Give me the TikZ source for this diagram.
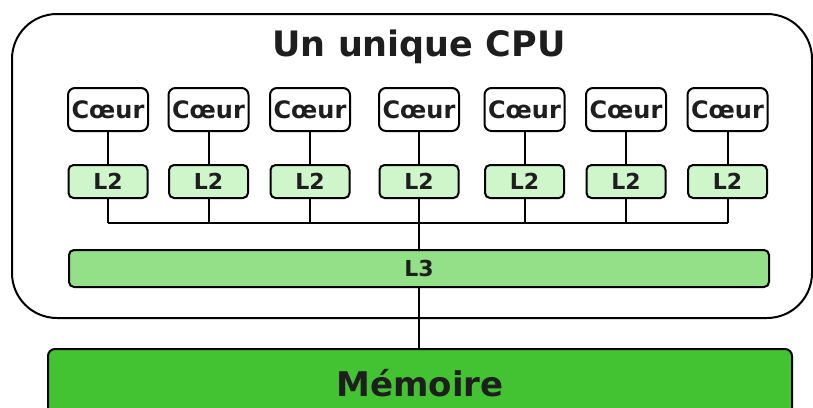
\documentclass[tikz,border=0pt]{standalone}
\usepackage{fontspec}
\setmainfont{DejaVu Sans}
\usetikzlibrary{positioning}
\definecolor{cLdeux}{HTML}{CFF5CA}
\definecolor{cLtrois}{HTML}{93E089}
\definecolor{cMem}{HTML}{44C332}
\definecolor{cInk}{HTML}{1E1E1E}
\tikzset{
  core/.style  ={draw=black, line width=2pt, rounded corners=7pt, fill=white, text=cInk, inner sep=0pt,
                 font=\bfseries\fontsize{24}{26}\selectfont, minimum width=80pt, minimum height=43pt},
  ltwo/.style  ={draw=black, line width=2pt, rounded corners=5pt, fill=cLdeux, text=cInk, inner sep=0pt,
                 font=\bfseries\fontsize{22}{26}\selectfont, minimum width=79pt, minimum height=33pt},
  lthree/.style={draw=black, line width=2pt, rounded corners=5pt, fill=cLtrois, text=cInk, inner sep=0pt,
                 font=\bfseries\fontsize{22}{26}\selectfont, minimum width=700pt, minimum height=37pt},
  mem/.style   ={draw=black, line width=2pt, rounded corners=7pt, fill=cMem, text=cInk, inner sep=0pt,
                 font=\bfseries\fontsize{34}{38}\selectfont, minimum width=744pt, minimum height=70pt},
  cpu/.style   ={draw=black, line width=2pt, rounded corners=45pt, inner sep=0pt,
                 minimum width=800pt, minimum height=304pt},
  wire/.style  ={line width=2pt, draw=black},
}
\begin{document}
\begin{tikzpicture}[x=1pt, y=-1pt]
  \path[use as bounding box, clip] (0,0) rectangle (813,407);
  % boitier du processeur
  \node[cpu] (cpu) at (412,166) {};
  \node[text=cInk, font=\bfseries\fontsize{35}{40}\selectfont] (titre) at (419,47) {Un unique CPU};
  % coeurs
  \node[core] (c1) at (108,109.5) {Cœur};
  \node[core] (c2) at (208.5,109.5) {Cœur};
  \node[core] (c3) at (310,109.5) {Cœur};
  \node[core] (c4) at (419,109.5) {Cœur};
  \node[core] (c5) at (524.5,109.5) {Cœur};
  \node[core] (c6) at (626,109.5) {Cœur};
  \node[core] (c7) at (727.5,109.5) {Cœur};
  % caches L2
  \node[ltwo, below=32pt of c1] (m1) {L2};
  \node[ltwo, below=32pt of c2] (m2) {L2};
  \node[ltwo, below=32pt of c3] (m3) {L2};
  \node[ltwo, below=32pt of c4] (m4) {L2};
  \node[ltwo, below=32pt of c5] (m5) {L2};
  \node[ltwo, below=32pt of c6] (m6) {L2};
  \node[ltwo, below=32pt of c7] (m7) {L2};
  \draw[wire] (c1)--(m1); \draw[wire] (c2)--(m2); \draw[wire] (c3)--(m3); \draw[wire] (c4)--(m4);
  \draw[wire] (c5)--(m5); \draw[wire] (c6)--(m6); \draw[wire] (c7)--(m7);
  % bus vers L3
  \coordinate (bus) at (0,223);
  \draw[wire] (m1.south) -- (m1.south |- bus); \draw[wire] (m2.south) -- (m2.south |- bus);
  \draw[wire] (m3.south) -- (m3.south |- bus); \draw[wire] (m5.south) -- (m5.south |- bus);
  \draw[wire] (m6.south) -- (m6.south |- bus); \draw[wire] (m7.south) -- (m7.south |- bus);
  \draw[wire] (m1.south |- bus) -- (m7.south |- bus);
  \node[lthree] (l3) at (419,268.5) {L3};
  \draw[wire] (m4.south) -- (l3.north);
  % memoire
  \node[mem] (ram) at (420,384) {\raisebox{2pt}{Mémoire}};
  \draw[wire] (l3.south) -- (l3.south |- ram.north);
\end{tikzpicture}
\end{document}
